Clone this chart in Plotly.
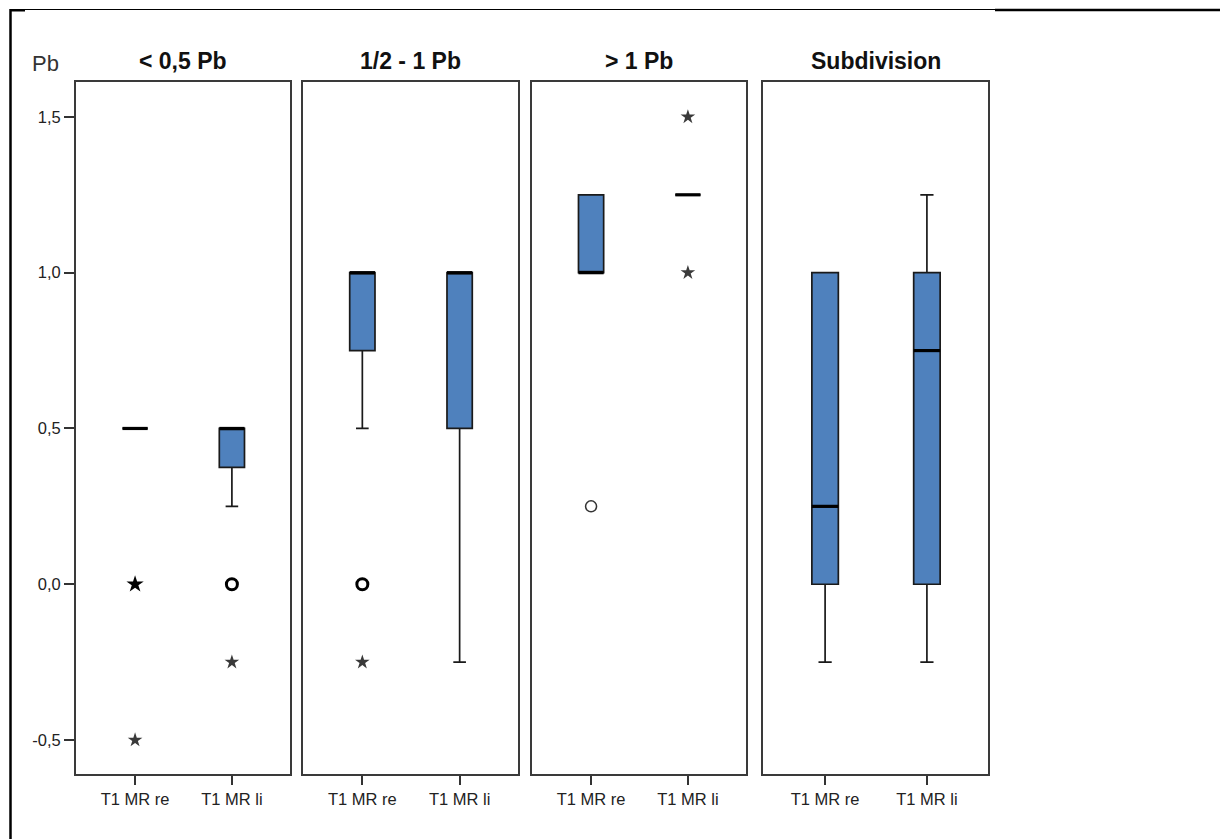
import plotly.graph_objects as go

# Panels and the two sides compared in each
panels = ["< 0,5 Pb", "1/2 - 1 Pb", "> 1 Pb", "Subdivision"]
categories = ["T1 MR re", "T1 MR li"]

# Box statistics per panel: [re, li]
lower_whisker = [[0.5, 0.25], [0.5, -0.25], [1.0, 1.25], [-0.25, -0.25]]
q1 = [[0.5, 0.375], [0.75, 0.5], [1.0, 1.25], [0.0, 0.0]]
median = [[0.5, 0.5], [1.0, 1.0], [1.0, 1.25], [0.25, 0.75]]
q3 = [[0.5, 0.5], [1.0, 1.0], [1.25, 1.25], [1.0, 1.0]]
upper_whisker = [[0.5, 0.5], [1.0, 1.0], [1.25, 1.25], [1.0, 1.25]]

# Outliers (circles) and extremes (stars): panel index, side index, value, repeated
outlier_panel = [0, 1, 2]
outlier_side = [1, 0, 0]
outlier_value = [0.0, 0.0, 0.25]
outlier_repeated = [True, True, False]

extreme_panel = [0, 0, 0, 1, 2, 2]
extreme_side = [0, 0, 1, 0, 1, 1]
extreme_value = [0.0, -0.5, -0.25, -0.25, 1.5, 1.0]
extreme_repeated = [True, False, False, False, False, False]

y_ticks = [-0.5, 0.0, 0.5, 1.0, 1.5]
y_ticktext = ["-0,5", "0,0", "0,5", "1,0", "1,5"]

W, H = 1220, 839
panel_px = [(76, 290), (303, 518), (532, 746), (763, 988)]
plot_top, plot_bottom = 82, 774
box_width = 0.26
FILL = "#4f81bd"
INK = "#1a1a1a"
FONT = "Liberation Sans, Arial, sans-serif"

fig = go.Figure()

for p in range(len(panels)):
    xa = "x" if p == 0 else f"x{p + 1}"
    ya = "y" if p == 0 else f"y{p + 1}"
    for s in range(len(categories)):
        fig.add_trace(go.Box(
            x=[s], q1=[q1[p][s]], median=[median[p][s]], q3=[q3[p][s]],
            lowerfence=[lower_whisker[p][s]], upperfence=[upper_whisker[p][s]],
            width=box_width, whiskerwidth=0.5, fillcolor=FILL,
            line=dict(color=INK, width=1.7), boxpoints=False,
            xaxis=xa, yaxis=ya, showlegend=False, hoverinfo="skip",
        ))
        # heavier median bar
        fig.add_trace(go.Scatter(
            x=[s - box_width / 2, s + box_width / 2],
            y=[median[p][s], median[p][s]],
            mode="lines", line=dict(color="black", width=3.2),
            xaxis=xa, yaxis=ya, showlegend=False, hoverinfo="skip",
        ))

for p, s, v, rep in zip(outlier_panel, outlier_side, outlier_value, outlier_repeated):
    xa = "x" if p == 0 else f"x{p + 1}"
    ya = "y" if p == 0 else f"y{p + 1}"
    fig.add_trace(go.Scatter(
        x=[s], y=[v], mode="markers",
        marker=dict(symbol="circle-open", size=11,
                    color="black" if rep else "#333",
                    line=dict(width=3 if rep else 1.5)),
        xaxis=xa, yaxis=ya, showlegend=False, hoverinfo="skip",
    ))

for p, s, v, rep in zip(extreme_panel, extreme_side, extreme_value, extreme_repeated):
    xa = "x" if p == 0 else f"x{p + 1}"
    ya = "y" if p == 0 else f"y{p + 1}"
    fig.add_trace(go.Scatter(
        x=[s], y=[v], mode="markers",
        marker=dict(symbol="star", size=13 if rep else 11,
                    color="black" if rep else "#3a3a3a",
                    line=dict(width=0)),
        xaxis=xa, yaxis=ya, showlegend=False, hoverinfo="skip",
    ))

y0 = 1 - plot_bottom / H
y1 = 1 - plot_top / H
layout = dict(
    width=W, height=H,
    margin=dict(l=0, r=0, t=0, b=0),
    paper_bgcolor="white", plot_bgcolor="white",
    font=dict(family=FONT, color="#222"),
)
for p, (left, right) in enumerate(panel_px):
    key = "" if p == 0 else str(p + 1)
    layout[f"xaxis{key}"] = dict(
        domain=[left / W, right / W], anchor=f"y{key}",
        range=[-0.61, 1.6], tickvals=[0, 1], ticktext=categories,
        ticks="outside", ticklen=9, tickwidth=2, tickcolor="#333",
        showline=True, mirror=True, linecolor="#3a3a3a", linewidth=2,
        showgrid=False, zeroline=False, tickfont=dict(size=16.5, color="#222"),
        fixedrange=True,
    )
    ycfg = dict(
        domain=[y0, y1], anchor=f"x{key}", range=[-0.609, 1.612],
        showline=True, mirror=True, linecolor="#3a3a3a", linewidth=2,
        showgrid=False, zeroline=False, fixedrange=True,
    )
    if p == 0:
        ycfg.update(tickvals=y_ticks, ticktext=y_ticktext, ticks="outside",
                    ticklen=10, tickwidth=2, tickcolor="#333",
                    tickfont=dict(size=16.5, color="#222"))
    else:
        ycfg.update(showticklabels=False, ticks="")
    layout[f"yaxis{key}"] = ycfg

annotations = []
for p, (left, right) in enumerate(panel_px):
    annotations.append(dict(
        x=(left + right) / 2 / W, y=1 - 61 / H, xref="paper", yref="paper",
        text=f"<b>{panels[p]}</b>", showarrow=False,
        font=dict(size=23, color="#111", family=FONT),
        xanchor="center", yanchor="middle",
    ))
annotations.append(dict(
    x=45 / W, y=1 - 64 / H, xref="paper", yref="paper", text="Pb",
    showarrow=False, font=dict(size=22, color="#333", family=FONT),
    xanchor="center", yanchor="middle",
))
layout["annotations"] = annotations

# outer frame fragments
layout["shapes"] = [
    dict(type="line", xref="paper", yref="paper", x0=10 / W, x1=995 / W,
         y0=1 - 9.5 / H, y1=1 - 9.5 / H, line=dict(color="black", width=1.2)),
    dict(type="line", xref="paper", yref="paper", x0=995 / W, x1=1,
         y0=1 - 10 / H, y1=1 - 10 / H, line=dict(color="black", width=2.5)),
    dict(type="line", xref="paper", yref="paper", x0=10 / W, x1=25 / W,
         y0=1 - 10.5 / H, y1=1 - 10.5 / H, line=dict(color="black", width=2)),
    dict(type="line", xref="paper", yref="paper", x0=10.5 / W, x1=10.5 / W,
         y0=0, y1=1 - 9 / H, line=dict(color="black", width=2.5)),
]

fig.update_layout(**layout)
fig.write_html("out.html")
